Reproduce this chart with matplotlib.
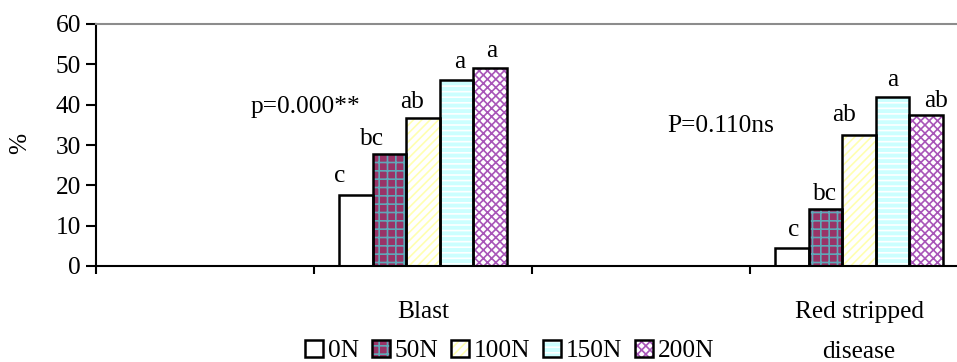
import matplotlib
matplotlib.use("Agg")
import matplotlib.pyplot as plt
import matplotlib.transforms as mtransforms
from matplotlib.patches import Patch
from matplotlib.legend_handler import HandlerTuple
import numpy as np

# ---- data ----
categories = ["", "Blast", "", "Red stripped\ndisease"]
series_names = ["0N", "50N", "100N", "150N", "200N"]
blast = [17.7, 27.8, 36.7, 46.0, 49.1]
red_stripe = [4.5, 14.2, 32.6, 42.0, 37.5]
blast_letters = ["c", "bc", "ab", "a", "a"]
red_letters = ["c", "bc", "ab", "a", "ab"]
p_blast = "p=0.000**"
p_red = "P=0.110ns"
y_ticks = [0, 10, 20, 30, 40, 50, 60]

# ---- styles ----
plt.rcParams['font.family'] = ['Liberation Serif', 'DejaVu Serif']
plt.rcParams['hatch.linewidth'] = 1.2
FS = 18.3
faces = ["white", "#993366", "white", "#CCFFFF", "white"]
hatches = [None, "++", "////", "---", "xxxx"]
hatch_cols = ["white", "#5FA8B8", "#FFFFB0", "white", "#A855B8"]
# label offsets in pixels (dx, dy)
blast_off = [(-16, 4), (-17, 0), (-11, 1), (3, 3), (2, 2)]
red_off = [(2, 3), (0, 0), (-15, 5), (0, 2), (10, -1)]

fig = plt.figure(figsize=(9.57, 3.62), dpi=100)
W, H = 957, 362
left, right, bot, top = 96, 968, 266, 24
ax = fig.add_axes([left / W, 1 - bot / H, (right - left) / W, (bot - top) / H])

n = len(series_names)
width = 0.154
x_groups = {1: blast, 3: red_stripe}
letters = {1: blast_letters, 3: red_letters}
offs = {1: blast_off, 3: red_off}

for gx, vals in x_groups.items():
    for j in range(n):
        xc = gx + (j - (n - 1) / 2) * width
        ax.bar(xc, vals[j], width, color=faces[j], hatch=hatches[j],
               edgecolor=hatch_cols[j], linewidth=0, zorder=2)
        ax.bar(xc, vals[j], width, fill=False, edgecolor="black",
               linewidth=1.8, zorder=3)
        dx, dy = offs[gx][j]
        ax.annotate(letters[gx][j], (xc, vals[j]),
                    xytext=(dx * 0.72, (dy + 4) * 0.72), textcoords="offset points",
                    ha="center", va="bottom", fontsize=FS, zorder=4)

ax.text(0.463, 39.3, p_blast, ha="center", va="center", fontsize=FS)
ax.text(2.367, 34.8, p_red, ha="center", va="center", fontsize=FS)

ax.set_xlim(-0.5, 3.5)
ax.set_ylim(0, 60)
ax.set_yticks(y_ticks)
ax.set_yticklabels([str(t) for t in y_ticks], fontsize=FS)
ax.tick_params(axis="y", direction="out", length=7.2, width=1.5, pad=3.5)
ax.set_xticks([-0.5, 0.5, 1.5, 2.5, 3.5])
ax.set_xticklabels([])
ax.tick_params(axis="x", direction="out", length=6, width=1.5)

for s in ["left", "bottom"]:
    ax.spines[s].set_linewidth(1.5)
    ax.spines[s].set_color("black")
ax.spines["top"].set_color("#8c8c8c")
ax.spines["top"].set_linewidth(1.5)
ax.spines["right"].set_visible(False)

# category labels
trans = mtransforms.blended_transform_factory(ax.transData, fig.transFigure)
for i, c in enumerate(categories):
    if not c:
        continue
    lines = c.split("\n")
    for k, ln in enumerate(lines):
        ax.text(i, 1 - (312 + 40 * k) / H, ln, transform=trans, ha="center",
                va="center", fontsize=FS, clip_on=False)

fig.text(20 / W, 1 - 143 / H, "%", rotation=90, ha="center", va="center", fontsize=FS)

# legend
handles = []
for j in range(n):
    p1 = Patch(facecolor=faces[j], hatch=hatches[j], edgecolor=hatch_cols[j], linewidth=0)
    p2 = Patch(fill=False, edgecolor="black", linewidth=1.8)
    handles.append((p1, p2))
fig.legend(handles, series_names, handler_map={tuple: HandlerTuple(ndivide=1)},
           loc="center", bbox_to_anchor=(510 / W, 1 - 351 / H), ncol=5, frameon=False,
           fontsize=FS, handlelength=0.7, handleheight=0.7, handletextpad=0.2,
           columnspacing=0.5, borderpad=0, borderaxespad=0)

fig.savefig("out.png", dpi=100)
